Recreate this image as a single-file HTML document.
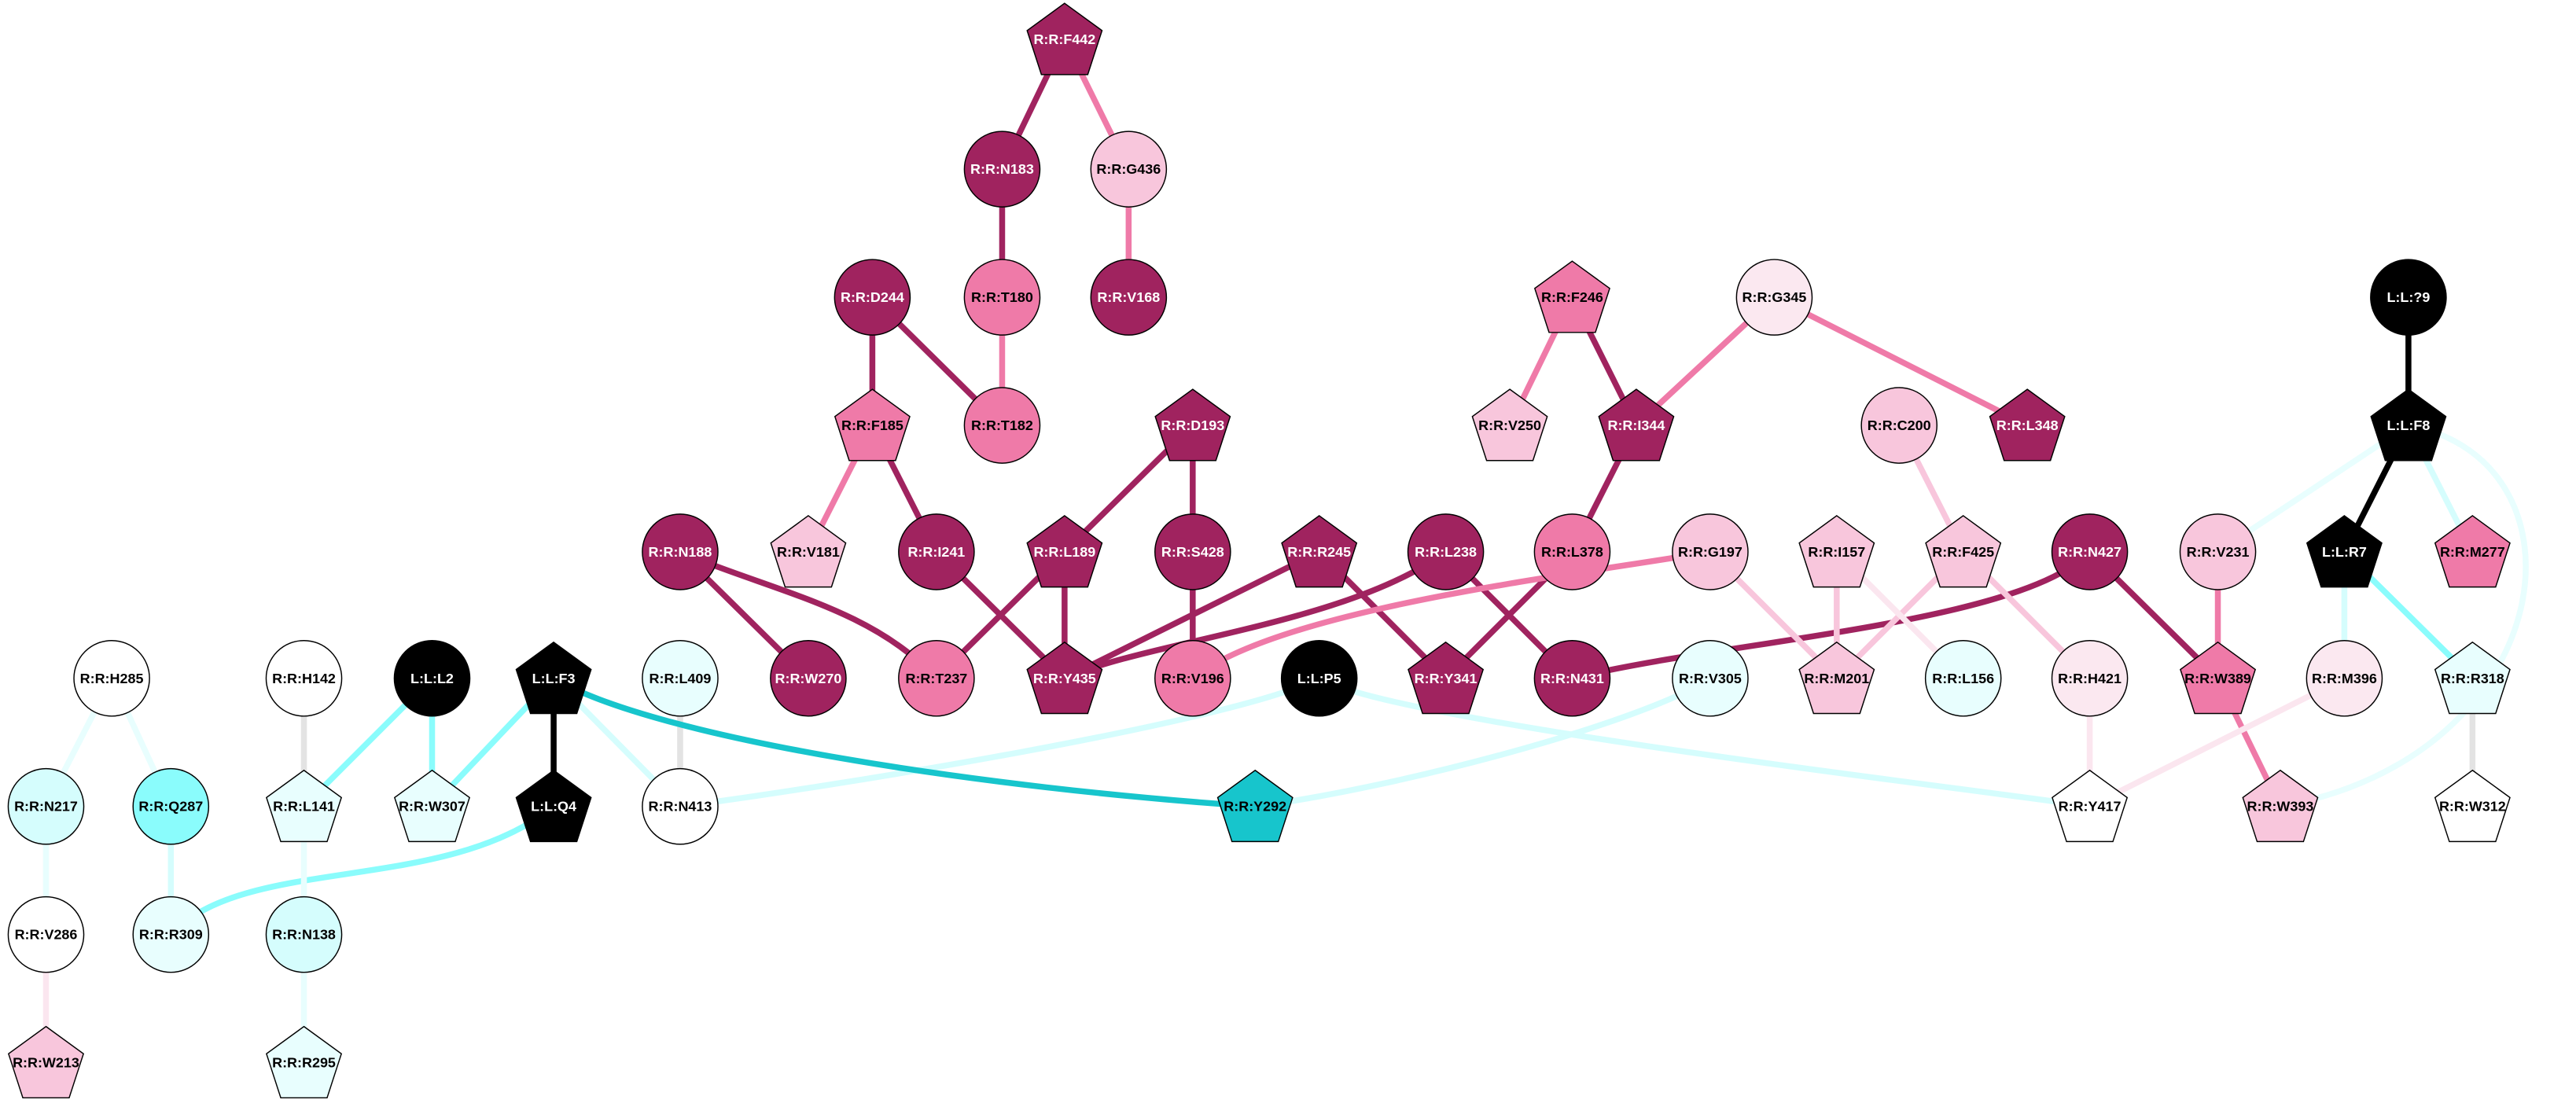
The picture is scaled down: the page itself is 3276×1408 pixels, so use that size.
<!DOCTYPE html>
<html><head><style>html,body{margin:0;padding:0;background:#fff}svg{display:block}</style></head>
<body>
<svg width="3276" height="1408" viewBox="0 0 1568 674" preserveAspectRatio="none" xmlns="http://www.w3.org/2000/svg">
<defs>
<polygon id="pg" points="0,-22 22.8,-5.4 14.1,21.4 -14.1,21.4 -22.8,-5.4"/>
</defs>
<g fill="none" stroke-width="3.6" stroke-linecap="butt">
<!-- dark -->
<g stroke="#a0235f">
<line x1="648" y1="24" x2="610" y2="103"/>
<line x1="610" y1="103" x2="610" y2="181"/>
<line x1="531" y1="181" x2="610" y2="259"/>
<line x1="531" y1="181" x2="531" y2="259"/>
<line x1="531" y1="259" x2="570" y2="336"/>
<line x1="570" y1="336" x2="648" y2="413"/>
<line x1="726" y1="259" x2="648" y2="336"/>
<line x1="726" y1="259" x2="726" y2="336"/>
<line x1="648" y1="336" x2="648" y2="413"/>
<line x1="648" y1="336" x2="570" y2="413"/>
<line x1="726" y1="336" x2="726" y2="413"/>
<line x1="414" y1="336" x2="492" y2="413"/>
<path d="M414,336 C470,360 530,370 570,413"/>
<line x1="803" y1="336" x2="648" y2="413"/>
<line x1="803" y1="336" x2="880" y2="413"/>
<path d="M880,336 C820,380 700,390 648,413"/>
<line x1="880" y1="336" x2="957" y2="413"/>
<line x1="957" y1="181" x2="996" y2="259"/>
<line x1="996" y1="259" x2="957" y2="336"/>
<line x1="957" y1="336" x2="880" y2="413"/>
<path d="M1272,336 C1230,380 1050,390 957,413"/>
<line x1="1272" y1="336" x2="1350" y2="413"/>
</g>
<g stroke="#ef7aa8">
<line x1="648" y1="24" x2="687" y2="103"/>
<line x1="687" y1="103" x2="687" y2="181"/>
<line x1="610" y1="181" x2="610" y2="259"/>
<line x1="531" y1="259" x2="492" y2="336"/>
<line x1="957" y1="181" x2="919" y2="259"/>
<line x1="1080" y1="181" x2="996" y2="259"/>
<line x1="1080" y1="181" x2="1234" y2="259"/>
<path d="M1041,336 C960,350 780,370 726,413"/>
<line x1="1350" y1="336" x2="1350" y2="413"/>
<line x1="1350" y1="413" x2="1388" y2="491"/>
</g>
<g stroke="#f8c6dc">
<line x1="1041" y1="336" x2="1118" y2="413"/>
<line x1="1118" y1="336" x2="1118" y2="413"/>
<line x1="1156" y1="259" x2="1195" y2="336"/>
<line x1="1195" y1="336" x2="1118" y2="413"/>
<line x1="1195" y1="336" x2="1272" y2="413"/>
</g>
<g stroke="#fbe6ef">
<line x1="1118" y1="336" x2="1195" y2="413"/>
<line x1="1272" y1="413" x2="1272" y2="491"/>
<line x1="1427" y1="413" x2="1272" y2="491"/>
<line x1="28" y1="569" x2="28" y2="647"/>
</g>
<g stroke="#000">
<line x1="1466" y1="181" x2="1466" y2="259"/>
<line x1="1466" y1="259" x2="1427" y2="336"/>
<line x1="337" y1="413" x2="337" y2="491"/>
</g>
<g stroke="#8afcfc">
<line x1="1427" y1="336" x2="1505" y2="413"/>
<line x1="337" y1="413" x2="263" y2="491"/>
<line x1="263" y1="413" x2="185" y2="491"/>
<line x1="263" y1="413" x2="263" y2="491"/>
<path d="M337,491 C270,545 150,520 104,569"/>
</g>
<g stroke="#d5fdfd">
<line x1="1427" y1="336" x2="1427" y2="413"/>
<line x1="1466" y1="259" x2="1505" y2="336"/>
<line x1="337" y1="413" x2="414" y2="491"/>
<path d="M803,413 C750,440 500,480 414,491"/>
<path d="M803,413 C850,440 1200,480 1272,491"/>
<path d="M1041,413 C1000,440 850,480 764,491"/>
<line x1="104" y1="491" x2="104" y2="569"/>
</g>
<g stroke="#e8fefe">
<line x1="1466" y1="259" x2="1350" y2="336"/>
<path d="M1466,259 C1580,280 1560,460 1388,491"/>
<line x1="68" y1="413" x2="28" y2="491"/>
<line x1="68" y1="413" x2="104" y2="491"/>
<line x1="28" y1="491" x2="28" y2="569"/>
<line x1="185" y1="491" x2="185" y2="569"/>
<line x1="185" y1="569" x2="185" y2="647"/>
</g>
<g stroke="#e3e3e3">
<line x1="1505" y1="413" x2="1505" y2="491"/>
<line x1="185" y1="413" x2="185" y2="491"/>
<line x1="414" y1="413" x2="414" y2="491"/>
</g>
<path stroke="#17c5cc" d="M337,413 C400,450 600,480 764,491"/>
</g>
<g stroke="#000" stroke-width="0.7" font-family="Liberation Sans, Arial, sans-serif" font-size="8.6" font-weight="bold" text-anchor="middle">
<!-- circles -->
<g id="c">
</g>
</g>
<g stroke="#000" stroke-width="0.7">
<circle cx="610" cy="103" r="23" fill="#a0235f"/>
<circle cx="687" cy="103" r="23" fill="#f8c6dc"/>
<circle cx="531" cy="181" r="23" fill="#a0235f"/>
<circle cx="610" cy="181" r="23" fill="#ef7aa8"/>
<circle cx="687" cy="181" r="23" fill="#a0235f"/>
<circle cx="1080" cy="181" r="23" fill="#fbe8f0"/>
<circle cx="1466" cy="181" r="23" fill="#000"/>
<circle cx="610" cy="259" r="23" fill="#ef7aa8"/>
<circle cx="1156" cy="259" r="23" fill="#f8c6dc"/>
<circle cx="414" cy="336" r="23" fill="#a0235f"/>
<circle cx="570" cy="336" r="23" fill="#a0235f"/>
<circle cx="726" cy="336" r="23" fill="#a0235f"/>
<circle cx="880" cy="336" r="23" fill="#a0235f"/>
<circle cx="957" cy="336" r="23" fill="#ef7aa8"/>
<circle cx="1041" cy="336" r="23" fill="#f8c6dc"/>
<circle cx="1272" cy="336" r="23" fill="#a0235f"/>
<circle cx="1350" cy="336" r="23" fill="#f8c6dc"/>
<circle cx="68" cy="413" r="23" fill="#fff"/>
<circle cx="185" cy="413" r="23" fill="#fff"/>
<circle cx="263" cy="413" r="23" fill="#000"/>
<circle cx="414" cy="413" r="23" fill="#e8fefe"/>
<circle cx="492" cy="413" r="23" fill="#a0235f"/>
<circle cx="570" cy="413" r="23" fill="#ef7aa8"/>
<circle cx="726" cy="413" r="23" fill="#ef7aa8"/>
<circle cx="803" cy="413" r="23" fill="#000"/>
<circle cx="957" cy="413" r="23" fill="#a0235f"/>
<circle cx="1041" cy="413" r="23" fill="#e8fefe"/>
<circle cx="1195" cy="413" r="23" fill="#e8fefe"/>
<circle cx="1272" cy="413" r="23" fill="#fbe8f0"/>
<circle cx="1427" cy="413" r="23" fill="#fbe8f0"/>
<circle cx="28" cy="491" r="23" fill="#d5fdfd"/>
<circle cx="104" cy="491" r="23" fill="#8afcfc"/>
<circle cx="414" cy="491" r="23" fill="#fff"/>
<circle cx="28" cy="569" r="23" fill="#fff"/>
<circle cx="104" cy="569" r="23" fill="#e8fefe"/>
<circle cx="185" cy="569" r="23" fill="#d5fdfd"/>
<!-- pentagons -->
<use href="#pg" x="648" y="24" fill="#a0235f"/>
<use href="#pg" x="957" y="181" fill="#ef7aa8"/>
<use href="#pg" x="531" y="259" fill="#ef7aa8"/>
<use href="#pg" x="726" y="259" fill="#a0235f"/>
<use href="#pg" x="919" y="259" fill="#f8c6dc"/>
<use href="#pg" x="996" y="259" fill="#a0235f"/>
<use href="#pg" x="1234" y="259" fill="#a0235f"/>
<use href="#pg" x="1466" y="259" fill="#000"/>
<use href="#pg" x="492" y="336" fill="#f8c6dc"/>
<use href="#pg" x="648" y="336" fill="#a0235f"/>
<use href="#pg" x="803" y="336" fill="#a0235f"/>
<use href="#pg" x="1118" y="336" fill="#f8c6dc"/>
<use href="#pg" x="1195" y="336" fill="#f8c6dc"/>
<use href="#pg" x="1427" y="336" fill="#000"/>
<use href="#pg" x="1505" y="336" fill="#ef7aa8"/>
<use href="#pg" x="337" y="413" fill="#000"/>
<use href="#pg" x="648" y="413" fill="#a0235f"/>
<use href="#pg" x="880" y="413" fill="#a0235f"/>
<use href="#pg" x="1118" y="413" fill="#f8c6dc"/>
<use href="#pg" x="1350" y="413" fill="#ef7aa8"/>
<use href="#pg" x="1505" y="413" fill="#e8fefe"/>
<use href="#pg" x="185" y="491" fill="#e8fefe"/>
<use href="#pg" x="263" y="491" fill="#e8fefe"/>
<use href="#pg" x="337" y="491" fill="#000"/>
<use href="#pg" x="764" y="491" fill="#17c5cc"/>
<use href="#pg" x="1272" y="491" fill="#fff"/>
<use href="#pg" x="1388" y="491" fill="#f8c6dc"/>
<use href="#pg" x="1505" y="491" fill="#fff"/>
<use href="#pg" x="28" y="647" fill="#f8c6dc"/>
<use href="#pg" x="185" y="647" fill="#e8fefe"/>
</g>
<g font-family="Liberation Sans, Arial, sans-serif" font-size="8.6" font-weight="bold" text-anchor="middle" dominant-baseline="central">
<g fill="#fff">
<text x="648" y="24">R:R:F442</text>
<text x="610" y="103">R:R:N183</text>
<text x="531" y="181">R:R:D244</text>
<text x="687" y="181">R:R:V168</text>
<text x="1466" y="181">L:L:?9</text>
<text x="726" y="259">R:R:D193</text>
<text x="996" y="259">R:R:I344</text>
<text x="1234" y="259">R:R:L348</text>
<text x="1466" y="259">L:L:F8</text>
<text x="414" y="336">R:R:N188</text>
<text x="570" y="336">R:R:I241</text>
<text x="648" y="336">R:R:L189</text>
<text x="726" y="336">R:R:S428</text>
<text x="803" y="336">R:R:R245</text>
<text x="880" y="336">R:R:L238</text>
<text x="1272" y="336">R:R:N427</text>
<text x="1427" y="336">L:L:R7</text>
<text x="263" y="413">L:L:L2</text>
<text x="337" y="413">L:L:F3</text>
<text x="492" y="413">R:R:W270</text>
<text x="648" y="413">R:R:Y435</text>
<text x="803" y="413">L:L:P5</text>
<text x="880" y="413">R:R:Y341</text>
<text x="957" y="413">R:R:N431</text>
<text x="337" y="491">L:L:Q4</text>
</g>
<g fill="#000">
<text x="687" y="103">R:R:G436</text>
<text x="610" y="181">R:R:T180</text>
<text x="957" y="181">R:R:F246</text>
<text x="1080" y="181">R:R:G345</text>
<text x="531" y="259">R:R:F185</text>
<text x="610" y="259">R:R:T182</text>
<text x="919" y="259">R:R:V250</text>
<text x="1156" y="259">R:R:C200</text>
<text x="492" y="336">R:R:V181</text>
<text x="957" y="336">R:R:L378</text>
<text x="1041" y="336">R:R:G197</text>
<text x="1118" y="336">R:R:I157</text>
<text x="1195" y="336">R:R:F425</text>
<text x="1350" y="336">R:R:V231</text>
<text x="1505" y="336">R:R:M277</text>
<text x="68" y="413">R:R:H285</text>
<text x="185" y="413">R:R:H142</text>
<text x="414" y="413">R:R:L409</text>
<text x="570" y="413">R:R:T237</text>
<text x="726" y="413">R:R:V196</text>
<text x="1041" y="413">R:R:V305</text>
<text x="1118" y="413">R:R:M201</text>
<text x="1195" y="413">R:R:L156</text>
<text x="1272" y="413">R:R:H421</text>
<text x="1350" y="413">R:R:W389</text>
<text x="1427" y="413">R:R:M396</text>
<text x="1505" y="413">R:R:R318</text>
<text x="28" y="491">R:R:N217</text>
<text x="104" y="491">R:R:Q287</text>
<text x="185" y="491">R:R:L141</text>
<text x="263" y="491">R:R:W307</text>
<text x="414" y="491">R:R:N413</text>
<text x="764" y="491">R:R:Y292</text>
<text x="1272" y="491">R:R:Y417</text>
<text x="1388" y="491">R:R:W393</text>
<text x="1505" y="491">R:R:W312</text>
<text x="28" y="569">R:R:V286</text>
<text x="104" y="569">R:R:R309</text>
<text x="185" y="569">R:R:N138</text>
<text x="28" y="647">R:R:W213</text>
<text x="185" y="647">R:R:R295</text>
</g>
</g>
</svg>
</body></html>
